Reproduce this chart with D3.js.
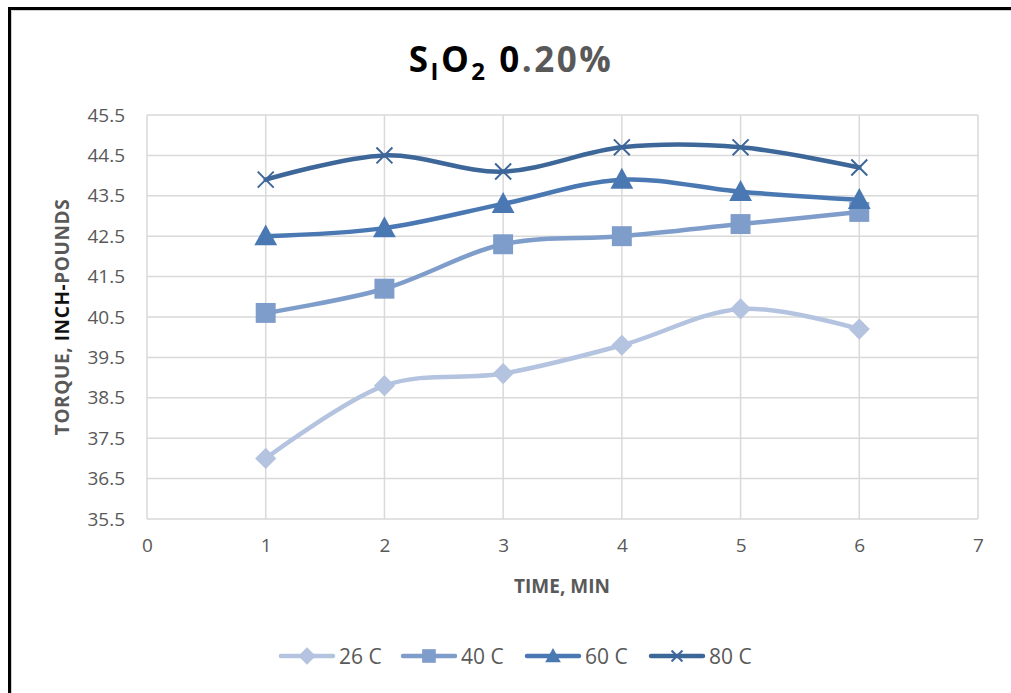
<!DOCTYPE html>
<html>
<head>
<meta charset="utf-8">
<script src="https://cdn.jsdelivr.net/npm/d3@7"></script>
<style>
  html, body { margin: 0; padding: 0; background: #fff; }
  svg { display: block; font-family: "Open Sans", "Lato", sans-serif; }
</style>
</head>
<body>
<svg id="chart" width="1011" height="693"></svg>
<script>
// Torque readings (inch-pounds) over mixing time, one series per temperature
const times = [1, 2, 3, 4, 5, 6];
const seriesNames = ["26 C", "40 C", "60 C", "80 C"];
const torque26 = [37.0, 38.8, 39.1, 39.8, 40.7, 40.2];
const torque40 = [40.6, 41.2, 42.3, 42.5, 42.8, 43.1];
const torque60 = [42.5, 42.7, 43.3, 43.9, 43.6, 43.4];
const torque80 = [43.9, 44.5, 44.1, 44.7, 44.7, 44.2];
const xTicks = [0, 1, 2, 3, 4, 5, 6, 7];
const yTicks = [35.5, 36.5, 37.5, 38.5, 39.5, 40.5, 41.5, 42.5, 43.5, 44.5, 45.5];

const series = [
  { name: seriesNames[0], values: torque26, color: "#b4c3df", marker: "diamond" },
  { name: seriesNames[1], values: torque40, color: "#7f9dca", marker: "square" },
  { name: seriesNames[2], values: torque60, color: "#4a78b3", marker: "triangle" },
  { name: seriesNames[3], values: torque80, color: "#3d6699", marker: "cross" }
];

const svg = d3.select("#chart");
const W = 1011, H = 693;

// outer frame
svg.append("rect").attr("x", 9.5).attr("y", 8.5).attr("width", W + 10).attr("height", H + 10)
  .attr("fill", "none").attr("stroke", "#000").attr("stroke-width", 3);
svg.append("rect").attr("x", 11.5).attr("y", 10.5).attr("width", W + 10).attr("height", H + 10)
  .attr("fill", "none").attr("stroke", "#cfcfcf").attr("stroke-width", 1);

const plot = { left: 147, right: 978, top: 115, bottom: 519 };
const x = d3.scaleLinear().domain([0, 7]).range([plot.left, plot.right]);
const y = d3.scaleLinear().domain([35.5, 45.5]).range([plot.bottom, plot.top]);

// title
const title = svg.append("text").attr("x", 511).attr("y", 72).attr("text-anchor", "middle")
  .attr("font-size", 35).attr("font-weight", "bold").attr("fill", "#000")
  .attr("letter-spacing", 2.5);
title.append("tspan").text("S");
title.append("tspan").attr("font-size", 24).attr("dy", 8).text("I");
title.append("tspan").attr("dy", -8).text("O");
title.append("tspan").attr("font-size", 24).attr("dy", 8).text("2");
title.append("tspan").attr("dy", -8).text(" 0");
title.append("tspan").attr("fill", "#595959").text(".20%");

// gridlines
const grid = svg.append("g").attr("stroke", "#d9d9d9").attr("stroke-width", 1.5);
grid.selectAll("line.h").data(yTicks).join("line")
  .attr("x1", plot.left).attr("x2", plot.right)
  .attr("y1", d => y(d)).attr("y2", d => y(d));
grid.selectAll("line.v").data(xTicks).join("line")
  .attr("y1", plot.top).attr("y2", plot.bottom)
  .attr("x1", d => x(d)).attr("x2", d => x(d));

// axes (labels only, Excel style)
const yAxis = svg.append("g").attr("transform", `translate(${plot.left},0)`)
  .call(d3.axisLeft(y).tickValues(yTicks).tickFormat(d3.format(".1f")).tickSize(0).tickPadding(22));
const xAxis = svg.append("g").attr("transform", `translate(0,${plot.bottom})`)
  .call(d3.axisBottom(x).tickValues(xTicks).tickFormat(d3.format("d")).tickSize(0).tickPadding(20));
[yAxis, xAxis].forEach(a => {
  a.select(".domain").remove();
  a.selectAll("text").attr("fill", "#595959").attr("font-size", 19)
    .attr("font-family", "'Open Sans', sans-serif");
});

// axis titles
svg.append("text").attr("x", 562).attr("y", 593).attr("text-anchor", "middle")
  .attr("font-size", 19).attr("font-weight", "bold").attr("fill", "#595959").text("TIME, MIN");
const yt = svg.append("text").attr("transform", "translate(69,317) rotate(-90)")
  .attr("text-anchor", "middle").attr("font-size", 19).attr("font-weight", "bold")
  .attr("fill", "#595959").attr("letter-spacing", 0.6);
yt.append("tspan").text("TORQUE, ");
yt.append("tspan").attr("fill", "#111").text("INCH-");
yt.append("tspan").text("POUNDS");

// marker shapes
function drawMarker(g, type, cx, cy, color, s) {
  if (type === "diamond") {
    g.append("path").attr("d", d3.symbol(d3.symbolDiamond2, s * 15)())
      .attr("transform", `translate(${cx},${cy})`).attr("fill", color);
  } else if (type === "square") {
    g.append("rect").attr("x", cx - s / 1.9).attr("y", cy - s / 1.9)
      .attr("width", s * 1.05).attr("height", s * 1.05).attr("fill", color);
  } else if (type === "triangle") {
    const h = s * 1.0;
    g.append("path")
      .attr("d", `M${cx},${cy - h * 0.62}L${cx + h * 0.6},${cy + h * 0.48}L${cx - h * 0.6},${cy + h * 0.48}Z`)
      .attr("fill", color);
  } else if (type === "cross") {
    const r = s * 0.42;
    g.append("path")
      .attr("d", `M${cx - r},${cy - r}L${cx + r},${cy + r}M${cx - r},${cy + r}L${cx + r},${cy - r}`)
      .attr("stroke", color).attr("stroke-width", 2).attr("fill", "none");
  }
}

// series lines (Excel-style smoothing) and markers
const line = d3.line().x((d, i) => x(times[i])).y(d => y(d)).curve(d3.curveCardinal.tension(0));
series.forEach(s => {
  const g = svg.append("g");
  g.append("path").attr("d", line(s.values)).attr("fill", "none")
    .attr("stroke", s.color).attr("stroke-width", 4.5).attr("stroke-linecap", "round");
  s.values.forEach((v, i) => drawMarker(g, s.marker, x(times[i]), y(v), s.color, 19));
});

// legend
const legendX = [281, 403, 527, 651];
const lg = svg.append("g");
series.forEach((s, i) => {
  const lx = legendX[i], ly = 656;
  lg.append("line").attr("x1", lx).attr("x2", lx + 52).attr("y1", ly).attr("y2", ly)
    .attr("stroke", s.color).attr("stroke-width", 4.5).attr("stroke-linecap", "round");
  drawMarker(lg, s.marker, lx + 26, ly, s.color, 13);
  lg.append("text").attr("x", lx + 58).attr("y", ly + 8).attr("font-size", 21)
    .attr("fill", "#595959").text(s.name);
});
</script>
</body>
</html>
